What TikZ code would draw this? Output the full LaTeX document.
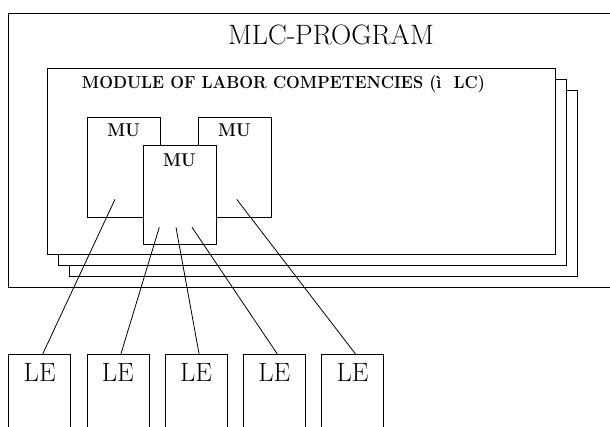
\documentclass[tikz,border=0pt]{standalone}
\usetikzlibrary{positioning}

\def\muWidth{73}
\def\muHeight{100}
\def\leWidth{62}
\def\leHeight{90}
\def\leStep{78.2}
\def\stackStep{11}
\newcommand{\narrowbold}[2]{\scalebox{#1}[1]{\bfseries #2}}

\begin{document}
\begin{tikzpicture}[x=1pt,y=-1pt,line width=0.8pt,
    box/.style={draw,fill=white,inner sep=0pt,anchor=north west},
    mubox/.style={box,minimum width=\muWidth pt,minimum height=\muHeight pt},
    lebox/.style={box,minimum width=\leWidth pt,minimum height=\leHeight pt},
    mulabel/.style={anchor=base,font=\fontsize{18.5}{20}\selectfont},
    lelabel/.style={anchor=base,font=\fontsize{26.5}{28}\selectfont}]
    \useasboundingbox (0,0) rectangle (610,427);
    \clip (0,0) rectangle (610,427);

    % program frame, runs off to the right
    \draw (8.7,13) rectangle (640,287.7);
    \node[anchor=base,font=\fontsize{28}{30}\selectfont] (title) at (331,45) {MLC-PROGRAM};

    % stacked module sheets, back to front
    \foreach \k in {2,1} {
      \draw[fill=white] (47+\stackStep*\k,68+\stackStep*\k) rectangle ++(508,186);
    }
    \node[box,minimum width=508pt,minimum height=186pt] (mlc) at (47,68) {};
    \node[anchor=base,font=\fontsize{17.5}{19}\selectfont] (mlcname) at (283.5,88.8)
      {\narrowbold{0.93}{MODULE OF LABOR COMPETENCIES (ì\ \ LC)}};

    % module units, middle one in front
    \node[mubox] (muL) at (86.7,116.7) {};
    \node[mubox] (muR) at (197.5,116.7) {};
    \node[mubox,minimum height=99pt] (muC) at (142.5,145) {};
    \foreach \m/\d in {muL/19.8,muR/19.8,muC/21.5} {
      \node[mulabel] at ([yshift=-\d pt]\m.north) {\narrowbold{0.91}{MU}};
    }

    % learning elements along the bottom
    \foreach \i in {1,...,5} {
      \node[lebox] (le\i) at (8.3+\leStep*\i-\leStep,354) {};
      \node[lelabel] at ([yshift=-27.7pt]le\i.north) {LE};
    }

    % where the links leave the units
    \coordinate (sL) at (115,199.3);
    \coordinate (sR) at (236.7,199.3);
    \coordinate (sC1) at (159.3,227.3);
    \coordinate (sC2) at (176,227.3);
    \coordinate (sC3) at (192,227.3);

    \foreach \s/\e in {sL/le1,sC1/le2,sC2/le3,sC3/le4,sR/le5} {
      \draw (\s) -- ([xshift=3pt]\e.north);
    }
\end{tikzpicture}
\end{document}
